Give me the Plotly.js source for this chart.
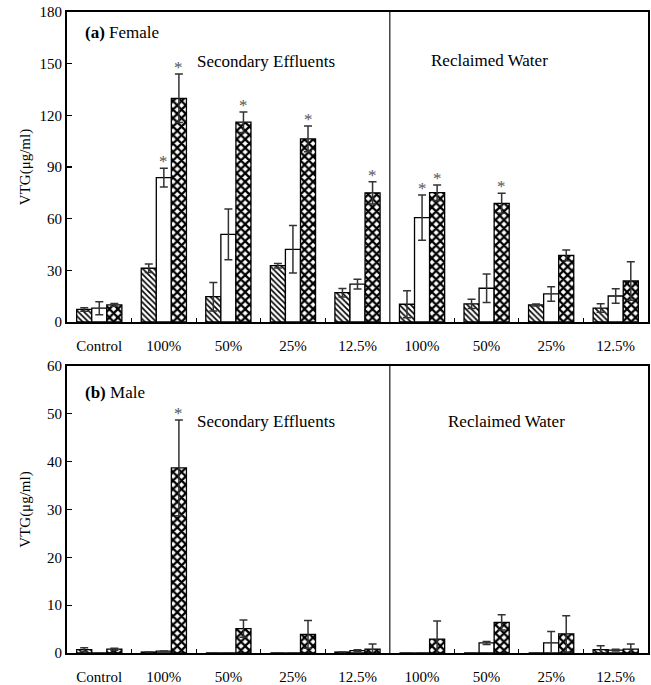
<!DOCTYPE html>
<html>
<head>
<meta charset="utf-8">
<script src="https://cdn.plot.ly/plotly-3.0.1.min.js"></script>
<style>html,body{margin:0;padding:0;background:#fff;}#chart{width:651px;height:685px;}</style>
</head>
<body>
<div id="chart"></div>
<script>
// ---- data ----
const groupLabels = ['Control','100%','50%','25%','12.5%','100%','50%','25%','12.5%'];
const groupX = [0,1,2,3,4,5,6,7,8];

// (a) Female, VTG (µg/ml)
const femaleHatched     = [7.3, 31.2, 14.7, 32.7, 17.0, 10.3, 10.5, 9.9, 8.1];
const femaleHatchedErr  = [1.0, 2.5, 8.3, 1.3, 2.5, 7.9, 2.7, 0.6, 2.5];
const femaleWhite       = [8.0, 83.8, 50.9, 42.2, 22.0, 60.6, 19.6, 16.3, 15.1];
const femaleWhiteErr    = [3.8, 5.4, 14.7, 13.8, 2.8, 13.2, 8.3, 4.2, 4.2];
const femaleChecker     = [9.9, 129.9, 116.0, 106.3, 75.0, 75.1, 68.9, 38.7, 23.8];
const femaleCheckerErr  = [0.8, 14.1, 6.0, 7.5, 6.5, 4.5, 5.8, 3.1, 11.2];
// significance markers: [group index, series index (0 hatched, 1 white, 2 checker)]
const femaleStars = [[1,1],[1,2],[2,2],[3,2],[4,2],[5,1],[5,2],[6,2]];

// (b) Male, VTG (µg/ml)
const maleHatched     = [0.7, 0.2, 0, 0, 0.2, 0, 0, 0, 0.7];
const maleHatchedErr  = [0.4, 0, 0, 0, 0, 0, 0, 0, 0.8];
const maleWhite       = [0, 0.4, 0, 0, 0.5, 0, 2.1, 2.1, 0.6];
const maleWhiteErr    = [0, 0, 0, 0, 0.2, 0, 0.3, 2.4, 0.2];
const maleChecker     = [0.8, 38.7, 5.1, 3.9, 0.8, 2.9, 6.4, 4.0, 0.8];
const maleCheckerErr  = [0.2, 10.0, 1.8, 2.9, 1.1, 3.8, 1.6, 3.8, 1.1];
const maleStars = [[1,2]];

// ---- styling ----
const serif = 'Liberation Serif, Times New Roman, serif';
const BARGAP = 0.3;
const NSER = 3;
const patterns = [
  {shape:'\\', size:4, solidity:0.4, fgcolor:'#000', bgcolor:'#fff', fillmode:'replace'},
  {shape:'', fgcolor:'#000', bgcolor:'#fff'},
  {shape:'x', size:6, solidity:0.6, fgcolor:'#000', bgcolor:'#fff', fillmode:'replace'}
];

function nz(err, vals){ return err.map((e,i)=> vals[i] === 0 ? null : e); }

function makeBars(vals, errs, sIdx, xa, ya){
  return {
    type:'bar', x: groupX, y: vals, xaxis: xa, yaxis: ya,
    marker: {color:'#fff', pattern: patterns[sIdx], line:{color:'#000', width:1.3}},
    error_y: {type:'data', array: nz(errs, vals), visible:true, color:'#333', thickness:1.5, width:4},
    showlegend:false, hoverinfo:'skip'
  };
}

const data = [
  makeBars(femaleHatched, femaleHatchedErr, 0, 'x', 'y'),
  makeBars(femaleWhite, femaleWhiteErr, 1, 'x', 'y'),
  makeBars(femaleChecker, femaleCheckerErr, 2, 'x', 'y'),
  makeBars(maleHatched, maleHatchedErr, 0, 'x2', 'y2'),
  makeBars(maleWhite, maleWhiteErr, 1, 'x2', 'y2'),
  makeBars(maleChecker, maleCheckerErr, 2, 'x2', 'y2')
];

const barW = (1 - BARGAP) / NSER;
function starAnn(list, vals, errs, xr, yr){
  return list.map(([g,s]) => ({
    x: groupX[g] + (s - 1) * barW, y: vals[s][g] + errs[s][g],
    xref: xr, yref: yr, text:'*', showarrow:false, yanchor:'bottom', yshift:-5,
    font:{family:serif, size:17, color:'#555'}
  }));
}

const annotations = [].concat(
  starAnn(femaleStars, [femaleHatched,femaleWhite,femaleChecker], [femaleHatchedErr,femaleWhiteErr,femaleCheckerErr], 'x', 'y'),
  starAnn(maleStars, [maleHatched,maleWhite,maleChecker], [maleHatchedErr,maleWhiteErr,maleCheckerErr], 'x2', 'y2'),
  [
    {xref:'x domain', yref:'y domain', x:0.0275, y:0.935, xanchor:'left', yanchor:'middle', showarrow:false,
     text:'<b>(a)</b> Female', font:{family:serif, size:17, color:'#000'}},
    {xref:'x domain', yref:'y domain', x:0.22, y:0.839, xanchor:'left', yanchor:'middle', showarrow:false,
     text:'Secondary Effluents', font:{family:serif, size:17, color:'#000'}},
    {xref:'x domain', yref:'y domain', x:0.728, y:0.845, xanchor:'center', yanchor:'middle', showarrow:false,
     text:'Reclaimed Water', font:{family:serif, size:17, color:'#000'}},
    {xref:'x2 domain', yref:'y2 domain', x:0.0275, y:0.909, xanchor:'left', yanchor:'middle', showarrow:false,
     text:'<b>(b)</b> Male', font:{family:serif, size:17, color:'#000'}},
    {xref:'x2 domain', yref:'y2 domain', x:0.22, y:0.805, xanchor:'left', yanchor:'middle', showarrow:false,
     text:'Secondary Effluents', font:{family:serif, size:17, color:'#000'}},
    {xref:'x2 domain', yref:'y2 domain', x:0.757, y:0.808, xanchor:'center', yanchor:'middle', showarrow:false,
     text:'Reclaimed Water', font:{family:serif, size:17, color:'#000'}}
  ]
);

function xAxis(anchor){
  return {
    anchor: anchor, domain:[0,1], range:[-0.5, 8.5], tickmode:'array', tickvals: groupX, ticktext: groupLabels,
    ticks:'', showline:true, mirror:true, linecolor:'#000', linewidth:2, showgrid:false, zeroline:false,
    tickfont:{family:serif, size:15, color:'#000'}, ticklabelstandoff: 9, automargin:false,
    minor:{tickmode:'array', tickvals:[0.5,1.5,2.5,3.5,5.5,6.5,7.5], ticks:'inside', ticklen:4, tickwidth:1.2, tickcolor:'#000', showgrid:false}
  };
}
function yAxis(anchor, domain, range, dtick, standoff){
  return {
    anchor: anchor, domain: domain, range: range, dtick: dtick, tick0:0,
    ticks:'inside', ticklen:5, tickwidth:1.2, tickcolor:'#000',
    showline:true, mirror:true, linecolor:'#000', linewidth:2, showgrid:false, zeroline:false,
    tickfont:{family:serif, size:15, color:'#000'}, automargin:false,
    title:{text:'VTG(μg/ml)', font:{family:serif, size:15, color:'#000'}, standoff:standoff}
  };
}

const layout = {
  width:651, height:685,
  margin:{l:67, r:3, t:12, b:32},
  paper_bgcolor:'#fff', plot_bgcolor:'#fff',
  barmode:'group', bargap:BARGAP, bargroupgap:0,
  showlegend:false,
  xaxis: xAxis('y'),
  yaxis: yAxis('x', [0.5164, 1], [0, 180], 30, 5),
  xaxis2: xAxis('y2'),
  yaxis2: yAxis('x2', [0, 0.4477], [0, 60], 10, 13),
  shapes:[
    {type:'line', xref:'x', yref:'y domain', x0:4.5, x1:4.5, y0:0, y1:1, line:{color:'#444', width:1.5}},
    {type:'line', xref:'x2', yref:'y2 domain', x0:4.5, x1:4.5, y0:0, y1:1, line:{color:'#444', width:1.5}}
  ],
  annotations: annotations
};

Plotly.newPlot('chart', data, layout, {staticPlot:true, displayModeBar:false});
</script>
</body>
</html>
